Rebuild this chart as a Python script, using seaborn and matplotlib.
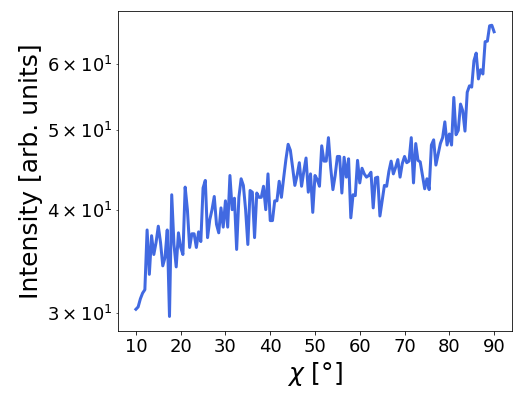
import matplotlib
matplotlib.use("Agg")
import matplotlib.pyplot as plt
import seaborn as sns
import pandas as pd

chi = [
    10.0, 10.5, 11.0, 11.5, 12.0, 12.5, 13.0, 13.5, 14.0, 14.5,
    15.0, 15.5, 16.0, 16.5, 17.0, 17.5, 18.0, 18.5, 19.0, 19.5,
    20.0, 20.5, 21.0, 21.5, 22.0, 22.5, 23.0, 23.5, 24.0, 24.5,
    25.0, 25.5, 26.0, 26.5, 27.0, 27.5, 28.0, 28.5, 29.0, 29.5,
    30.0, 30.5, 31.0, 31.5, 32.0, 32.5, 33.0, 33.5, 34.0, 34.5,
    35.0, 35.5, 36.0, 36.5, 37.0, 37.5, 38.0, 38.5, 39.0, 39.5,
    40.0, 40.5, 41.0, 41.5, 42.0, 42.5, 43.0, 43.5, 44.0, 44.5,
    45.0, 45.5, 46.0, 46.5, 47.0, 47.5, 48.0, 48.5, 49.0, 49.5,
    50.0, 50.5, 51.0, 51.5, 52.0, 52.5, 53.0, 53.5, 54.0, 54.5,
    55.0, 55.5, 56.0, 56.5, 57.0, 57.5, 58.0, 58.5, 59.0, 59.5,
    60.0, 60.5, 61.0, 61.5, 62.0, 62.5, 63.0, 63.5, 64.0, 64.5,
    65.0, 65.5, 66.0, 66.5, 67.0, 67.5, 68.0, 68.5, 69.0, 69.5,
    70.0, 70.5, 71.0, 71.5, 72.0, 72.5, 73.0, 73.5, 74.0, 74.5,
    75.0, 75.5, 76.0, 76.5, 77.0, 77.5, 78.0, 78.5, 79.0, 79.5,
    80.0, 80.5, 81.0, 81.5, 82.0, 82.5, 83.0, 83.5, 84.0, 84.5,
    85.0, 85.5, 86.0, 86.5, 87.0, 87.5, 88.0, 88.5, 89.0, 89.5,
    90.0,
]

intensity = [
    30.3, 30.5, 31.2, 31.7, 32.0, 37.8, 33.4, 37.2, 35.3, 36.5,
    38.2, 36.5, 34.2, 35.0, 37.8, 29.7, 41.7, 36.3, 34.1, 37.5,
    36.0, 35.3, 42.6, 40.0, 36.0, 37.4, 37.4, 36.0, 37.6, 36.6,
    42.5, 43.4, 37.0, 38.9, 40.0, 41.5, 38.4, 37.5, 40.2, 38.1,
    41.0, 38.1, 44.0, 40.0, 41.3, 35.8, 41.4, 43.6, 42.8, 40.0,
    36.3, 42.2, 42.0, 37.0, 41.9, 41.4, 41.4, 42.7, 40.0, 44.2,
    38.8, 38.8, 41.0, 41.0, 43.3, 41.4, 43.7, 46.0, 48.0, 47.2,
    45.0, 42.8, 44.0, 45.6, 42.7, 44.5, 46.2, 42.0, 44.2, 39.7,
    44.0, 43.5, 42.7, 47.8, 45.8, 45.8, 48.9, 45.0, 42.3, 44.0,
    46.4, 46.4, 41.9, 46.3, 43.8, 46.1, 39.1, 41.7, 41.6, 45.9,
    43.1, 44.9, 44.2, 43.8, 44.0, 44.4, 40.2, 43.7, 43.8, 39.3,
    41.0, 42.8, 42.7, 44.5, 45.8, 44.2, 45.0, 46.0, 43.8, 45.5,
    46.4, 45.6, 45.8, 48.9, 43.1, 48.1, 45.9, 45.7, 44.0, 42.4,
    43.6, 42.3, 47.9, 48.6, 45.3, 46.7, 48.1, 48.9, 51.1, 47.9,
    49.4, 47.9, 54.7, 49.3, 49.9, 53.7, 52.7, 49.8, 55.5, 56.5,
    56.3, 60.6, 61.9, 57.6, 59.1, 58.4, 63.9, 64.0, 66.8, 66.9,
    65.7,
]

df = pd.DataFrame({"chi": chi, "intensity": intensity})

W, H, DPI = 521, 403, 72
fig = plt.figure(figsize=(W / DPI, H / DPI), dpi=DPI)
ax = fig.add_axes([118 / W, 1 - 331 / H, (512 - 118) / W, (331 - 10.7) / H])

sns.lineplot(data=df, x="chi", y="intensity", ax=ax, color="royalblue", linewidth=3)
ax.set_yscale("log")

ax.set_xlabel(r"$\chi$ [°]", fontsize=25)
ax.set_ylabel("Intensity [arb. units]", fontsize=25)
ax.tick_params(axis="both", which="both", labelsize=18)
ax.set_xticks([10, 20, 30, 40, 50, 60, 70, 80, 90])

fig.savefig("out.png", dpi=DPI)
